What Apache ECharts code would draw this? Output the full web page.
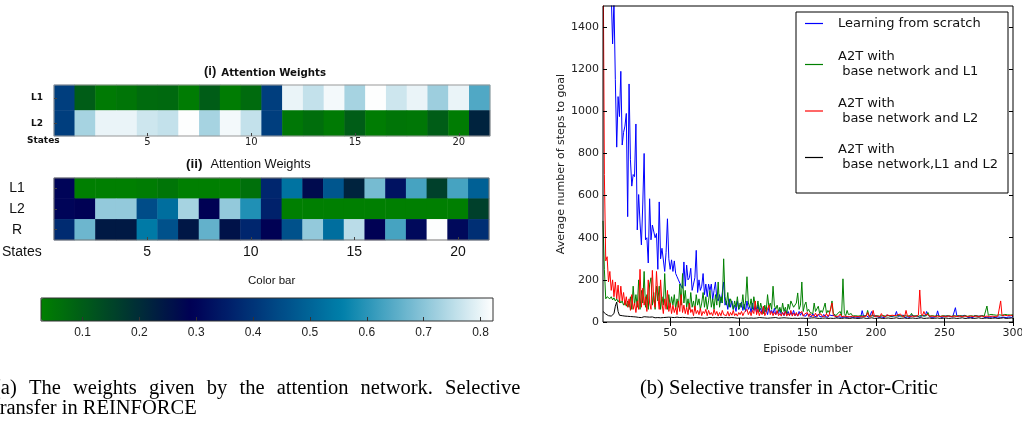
<!DOCTYPE html>
<html><head><meta charset="utf-8">
<script src="https://cdn.jsdelivr.net/npm/echarts@6/dist/echarts.min.js"></script>
<style>html,body{margin:0;padding:0;background:#fff}#c{width:1022px;height:421px}</style>
</head><body><div id="c"></div>
<script>
// ---------- data ----------
const states = ['1','2','3','4','5','6','7','8','9','10','11','12','13','14','15','16','17','18','19','20','21'];
const rowsI = ['L1','L2'];
const rowsII = ['L1','L2','R'];
const heatI_L1 = [0.42,0.10,0.04,0.05,0.07,0.075,0.035,0.10,0.035,0.07,0.42,0.80,0.76,0.81,0.73,0.82,0.77,0.80,0.72,0.80,0.64];
const heatI_L2 = [0.42,0.73,0.80,0.80,0.77,0.76,0.82,0.73,0.81,0.76,0.42,0.045,0.065,0.04,0.10,0.035,0.05,0.045,0.10,0.035,0.22];
const heatII_L1 = [0.30,0.03,0.03,0.03,0.035,0.05,0.03,0.03,0.03,0.06,0.37,0.53,0.27,0.47,0.22,0.68,0.33,0.63,0.16,0.63,0.49];
const heatII_L2 = [0.30,0.29,0.71,0.71,0.45,0.52,0.73,0.29,0.71,0.59,0.36,0.03,0.03,0.03,0.03,0.03,0.03,0.03,0.03,0.03,0.16];
const heatII_R  = [0.38,0.67,0.24,0.24,0.545,0.46,0.245,0.66,0.255,0.37,0.29,0.46,0.71,0.52,0.75,0.29,0.63,0.31,0.82,0.31,0.39];
const colorbarMin = 0.027, colorbarMax = 0.822;
const colorbarTicks = [0.1,0.2,0.3,0.4,0.5,0.6,0.7,0.8];
const episodeTicks = [50,100,150,200,250,300];
const stepTicks = [0,200,400,600,800,1000,1200,1400];
const seriesNames = ['Learning from scratch','A2T with\n base network and L1','A2T with\n base network and L2','A2T with\n base network,L1 and L2'];

const scratch = [
3200,2900,2600,2300,2000,1750,1560,1320,1520,1150,
830,1070,975,1190,840,900,930,990,500,1130,
770,645,700,690,940,437,605,470,366,560,
800,390,400,280,585,390,460,455,400,420,
250,570,300,350,355,240,330,490,300,250,
295,240,290,230,215,200,185,170,160,285,
170,270,200,210,255,150,180,210,340,140,
200,150,170,230,130,180,120,180,150,180,
105,150,190,110,100,130,90,140,190,80,
100,60,110,70,100,60,80,50,100,60,
70,95,55,85,50,100,60,75,45,90,
55,70,45,80,50,65,40,75,45,60,
35,70,45,55,40,65,35,50,40,60,
35,45,30,55,35,50,30,45,35,55,
30,40,28,50,32,45,30,38,28,42,
30,35,25,40,28,35,24,38,26,32,
24,36,26,30,22,34,25,30,24,32,
22,30,25,28,22,30,24,27,22,26,
25,28,22,26,24,28,22,30,24,54,
28,24,30,26,22,30,50,28,24,30,
26,22,31,24,28,21,27,33,24,29,
22,26,25,31,50,27,22,29,24,33,
21,27,24,30,22,34,25,27,21,29,
24,22,27,31,25,29,50,32,26,23,
29,22,31,26,53,28,24,21,30,27,
23,29,22,27,31,24,28,68,30,23,
27,21,29,24,32,26,22,29,23,27,
21,31,24,28,22,27,24,31,21,29,
23,27,22,31,24,29,21,26,24,31,
22,28,23,27,21,30,24,26,22,28];

const withL1 = [
480,250,110,120,115,110,120,105,115,100,
110,95,105,90,100,80,95,75,100,70,
120,60,170,80,130,70,200,60,150,90,
240,70,130,60,180,210,80,140,60,170,
100,170,60,120,80,230,90,60,130,70,
120,80,130,60,110,70,180,80,230,90,
150,70,110,60,140,70,100,55,130,80,
110,60,90,140,70,120,60,100,150,70,
110,60,130,80,190,70,120,90,300,120,
80,140,70,110,90,60,100,70,120,60,
90,70,130,60,100,215,90,70,110,60,
120,80,60,100,50,90,60,40,80,50,
130,70,90,60,170,80,60,80,50,70,
45,90,50,70,40,85,60,100,85,70,
70,90,138,60,80,190,50,80,95,50,
60,45,50,40,90,50,45,75,40,55,
45,50,90,40,55,45,60,100,40,45,
30,40,35,50,30,205,40,30,55,35,
30,40,28,35,30,38,28,34,30,36,
28,32,30,55,28,34,30,32,28,34,
30,33,27,36,31,34,28,32,30,38,
27,33,30,36,28,34,31,32,27,35,
30,33,28,36,30,41,28,32,30,34,
27,32,31,36,28,34,30,45,28,34,
30,33,28,36,31,34,27,32,30,35,
28,32,30,37,27,34,30,33,28,34,
31,32,28,36,30,34,27,32,30,35,
28,33,30,36,27,34,30,32,28,35,
76,32,28,36,30,34,28,32,30,34,
27,32,30,36,28,34,30,33,28,34];

const withL2 = [
1900,700,290,310,190,240,150,200,120,190,
110,175,90,170,100,140,80,120,70,110,
55,130,60,90,45,100,60,250,70,160,
80,120,50,200,90,60,245,100,70,240,
120,60,200,90,40,110,60,150,50,90,
40,80,45,70,35,100,50,130,45,80,
40,70,35,90,45,60,30,75,40,55,
35,65,30,50,40,60,30,55,35,45,
30,60,35,50,28,45,30,55,35,40,
30,50,28,45,32,55,30,40,28,45,
35,50,30,45,40,60,35,50,30,55,
40,100,35,60,30,50,35,75,30,45,
40,80,35,50,30,45,35,55,30,40,
28,45,32,50,28,40,30,55,28,42,
30,45,28,40,32,50,28,38,30,45,
26,40,30,35,28,42,26,36,30,38,
26,34,28,40,26,36,28,90,30,35,
26,32,28,38,25,34,28,30,26,35,
24,32,28,30,25,34,26,30,24,32,
26,30,28,45,26,32,28,55,26,30,
28,32,26,40,28,30,24,34,26,30,
28,32,26,30,28,34,26,38,28,30,
26,55,28,32,26,30,28,34,26,30,
32,152,40,30,50,34,28,36,26,30,
28,32,26,34,28,30,26,32,28,30,
26,34,28,30,26,32,28,30,26,34,
28,30,26,32,28,30,26,34,28,30,
26,32,28,30,26,34,28,30,26,32,
28,30,26,34,28,30,26,32,28,30,
100,30,26,32,28,30,26,32,28,30];

const withBoth = [
50,42,38,34,30,33,28,30,40,75,95,50,32,28,30,26,28,25,27,24,
26,23,25,22,24,26,22,24,21,23,25,22,24,20,23,21,24,22,20,23,21,22,20,24,21,19,22,20,23,21,
22,20,21,19,23,20,21,19,22,20,21,19,20,22,19,21,20,18,21,19,20,22,19,20,18,21,19,20,22,19,
20,18,21,19,20,18,22,19,20,18,21,19,20,18,21,19,20,22,18,20,
19,21,18,20,19,22,18,20,19,21,18,20,19,18,21,19,20,18,19,21,18,20,19,17,20,18,21,19,18,20,
19,17,20,18,19,21,18,19,17,20,18,19,17,20,18,21,18,19,17,20,
18,17,19,18,20,17,18,19,17,20,18,17,19,18,17,20,18,19,17,18,19,17,18,20,17,18,19,17,18,20,
17,18,19,17,18,20,17,19,18,17,20,18,17,19,18,17,20,18,17,19,
18,17,19,18,17,20,18,17,19,18,17,19,18,17,20,18,17,19,18,17,19,18,17,20,18,17,19,18,17,19,
18,17,20,18,17,19,18,17,19,18,17,20,18,17,19,18,17,19,18,17,
19,18,17,20,18,17,19,18,17,19,18,17,20,18,17,19,18,17,19,18,17,19,18,17,20,18,17,19,18,17,
19,18,17,20,18,17,19,18,17,19,18,17,20,18,17,19,18,17,19,18];

// ---------- build ----------
const episodes = scratch.map((_, i) => i + 1);
const ocean = ['#008000', '#000055', '#0080aa', '#ffffff'];
function cells(rows) { const out = []; rows.forEach((r, yi) => r.forEach((v, xi) => out.push([xi, yi, v]))); return out; }
function pts(arr) { return arr.map((v, i) => [episodes[i], v]); }
const every5 = (i) => (i + 1) % 5 === 0;
const lineColors = ['#0000ff', '#008000', '#ff0000', '#000000'];
const lineData = [scratch, withL1, withL2, withBoth];
const legendTops = [16, 49.5, 96, 142.5];

const chart = echarts.init(document.getElementById('c'));
const sansL = 'Liberation Sans';
const sansD = 'DejaVu Sans';
const serif = 'Liberation Serif';

const option = {
  animation: false,
  title: [
    { left: 204, top: 65, padding: 0, text: '{a|(i)}{b|Attention Weights}',
      textStyle: { rich: {
        a: { fontFamily: sansL, fontWeight: 'bold', fontSize: 13, color: '#111', verticalAlign: 'bottom' },
        b: { fontFamily: sansD, fontWeight: 'bold', fontSize: 10.2, color: '#111', verticalAlign: 'bottom', padding: [0, 0, 0, 5] } } } },
    { left: 186, top: 157, padding: 0, text: '{a|(ii)}{b|Attention Weights}',
      textStyle: { fontWeight: 'normal', rich: {
        a: { fontFamily: sansL, fontWeight: 'bold', fontSize: 13.5, color: '#111' },
        b: { fontFamily: sansL, fontWeight: 'normal', fontSize: 12.8, color: '#111', padding: [0, 0, 0, 8] } } } },
    { left: 27, top: 136, padding: 0, text: 'States', textStyle: { fontFamily: sansD, fontWeight: 'bold', fontSize: 9, color: '#111' } },
    { left: 2, top: 245, padding: 0, text: 'States', textStyle: { fontFamily: sansL, fontWeight: 'normal', fontSize: 14, color: '#111' } },
    { left: 248, top: 275, padding: 0, text: 'Color bar', textStyle: { fontFamily: sansL, fontWeight: 'normal', fontSize: 11.5, color: '#111' } },
    { left: -6, top: 378, padding: 0,
      text: '(a){s| }The{s| }weights{s| }given{s| }by{s| }the{s| }attention{s| }network.{s| }Selective',
      textStyle: { fontFamily: serif, fontWeight: 'normal', fontSize: 20.5, color: '#000', rich: { s: { width: 12.2, fontFamily: serif, fontSize: 20.5 } } } },
    { left: -6, top: 398, padding: 0, text: 'transfer in REINFORCE', textStyle: { fontFamily: serif, fontWeight: 'normal', fontSize: 20.5, color: '#000' } },
    { left: 640, top: 378, padding: 0, text: '(b) Selective transfer in Actor-Critic', textStyle: { fontFamily: serif, fontWeight: 'normal', fontSize: 20.5, color: '#000' } }
  ],
  grid: [
    { left: 54, top: 85, width: 436, height: 51, show: true, borderColor: '#999', borderWidth: 1, backgroundColor: 'transparent', z: 5, outerBoundsMode: 'none' },
    { left: 54, top: 178, width: 435, height: 62, show: true, borderColor: '#777', borderWidth: 1, backgroundColor: 'transparent', z: 5, outerBoundsMode: 'none' },
    { left: 41, top: 298, width: 452, height: 23, show: true, borderColor: '#333', borderWidth: 1, backgroundColor: 'transparent', z: 10, outerBoundsMode: 'none' },
    { left: 603, top: 6, width: 410, height: 316, show: true, borderColor: '#000', borderWidth: 1, backgroundColor: 'transparent', z: 5, outerBoundsMode: 'none' }
  ],
  xAxis: [
    { type: 'category', gridIndex: 0, data: states, z: 6, axisLine: { show: false },
      axisTick: { show: true, inside: true, length: 3, alignWithLabel: true, interval: every5, lineStyle: { color: '#444' } },
      axisLabel: { interval: every5, margin: 1, fontFamily: sansD, fontSize: 10, color: '#222' }, splitLine: { show: false } },
    { type: 'category', gridIndex: 1, data: states, z: 6, axisLine: { show: false },
      axisTick: { show: true, inside: true, length: 3, alignWithLabel: true, interval: every5, lineStyle: { color: '#444' } },
      axisLabel: { interval: every5, margin: 5, fontFamily: sansL, fontSize: 14, color: '#111' }, splitLine: { show: false } },
    { type: 'value', gridIndex: 2, min: colorbarMin, max: colorbarMax, z: 11, axisLine: { show: false },
      axisTick: { show: true, inside: true, length: 4, customValues: colorbarTicks, lineStyle: { color: '#333' } },
      axisLabel: { customValues: colorbarTicks, margin: 6, fontFamily: sansL, fontSize: 12, color: '#222', formatter: (v) => v.toFixed(1) },
      splitLine: { show: false } },
    { type: 'value', gridIndex: 3, min: 1, max: 300, z: 6, axisLine: { show: false },
      axisTick: { show: true, inside: true, length: 4, customValues: episodeTicks, lineStyle: { color: '#000' } },
      axisLabel: { customValues: episodeTicks, margin: 6, fontFamily: sansD, fontSize: 11, color: '#222', formatter: (v) => String(v) },
      splitLine: { show: false },
      name: 'Episode number', nameLocation: 'middle', nameGap: 21, nameTextStyle: { fontFamily: sansD, fontSize: 11, color: '#222' } },
    { type: 'value', gridIndex: 3, position: 'top', min: 1, max: 300, z: 6, axisLine: { show: false },
      axisTick: { show: true, inside: true, length: 4, customValues: episodeTicks, lineStyle: { color: '#000' } },
      axisLabel: { show: false }, splitLine: { show: false } }
  ],
  yAxis: [
    { type: 'category', gridIndex: 0, data: rowsI, inverse: true, z: 6, axisLine: { show: false },
      axisTick: { show: true, inside: true, length: 3, alignWithLabel: true, lineStyle: { color: '#444' } },
      axisLabel: { align: 'center', margin: 17, fontFamily: sansD, fontWeight: 'bold', fontSize: 9, color: '#111' } },
    { type: 'category', gridIndex: 1, data: rowsII, inverse: true, z: 6, axisLine: { show: false },
      axisTick: { show: true, inside: true, length: 3, alignWithLabel: true, lineStyle: { color: '#444' } },
      axisLabel: { align: 'center', margin: 37, fontFamily: sansL, fontSize: 14, color: '#111' } },
    { type: 'value', gridIndex: 2, min: 0, max: 1, show: false },
    { type: 'value', gridIndex: 3, min: 0, max: 1500, z: 6, axisLine: { show: false },
      axisTick: { show: true, inside: true, length: 4, customValues: stepTicks, lineStyle: { color: '#000' } },
      axisLabel: { customValues: stepTicks, margin: 4, fontFamily: sansD, fontSize: 11, color: '#222', formatter: (v) => String(v) },
      splitLine: { show: false },
      name: 'Average number of steps to goal', nameLocation: 'middle', nameGap: 35, nameTextStyle: { fontFamily: sansD, fontSize: 11, color: '#222' } },
    { type: 'value', gridIndex: 3, position: 'right', min: 0, max: 1500, z: 6, axisLine: { show: false },
      axisTick: { show: true, inside: true, length: 4, customValues: stepTicks, lineStyle: { color: '#000' } },
      axisLabel: { show: false }, splitLine: { show: false } }
  ],
  visualMap: {
    type: 'continuous', min: colorbarMin, max: colorbarMax, seriesIndex: [0, 1], dimension: 2,
    orient: 'horizontal', left: 41, top: 298, itemWidth: 23, itemHeight: 452, padding: 0,
    calculable: false, realtime: false, hoverLink: false, text: null, showLabel: false,
    inRange: { color: ocean }
  },
  legend: seriesNames.map((n, i) => ({
    data: [n], left: 805, top: legendTops[i], orient: 'vertical', padding: 0, itemWidth: 18, itemHeight: 1.2,
    icon: 'rect', itemGap: 0, z: 10, selectedMode: false,
    textStyle: { fontFamily: sansD, fontSize: 13, lineHeight: 15, color: '#111', padding: [0, 0, 0, 10] }
  })),
  graphic: [
    { type: 'rect', z: 8, shape: { x: 796, y: 12, width: 212, height: 181 }, style: { fill: '#fff', stroke: '#000', lineWidth: 1 }, silent: true }
  ],
  series: [
    { type: 'heatmap', xAxisIndex: 0, yAxisIndex: 0, data: cells([heatI_L1, heatI_L2]), itemStyle: { borderWidth: 0 }, emphasis: { disabled: true }, silent: true },
    { type: 'heatmap', xAxisIndex: 1, yAxisIndex: 1, data: cells([heatII_L1, heatII_L2, heatII_R]), itemStyle: { borderWidth: 0 }, emphasis: { disabled: true }, silent: true }
  ].concat(seriesNames.map((n, i) => ({
    type: 'line', name: n, xAxisIndex: 3, yAxisIndex: 3, data: pts(lineData[i]), symbol: 'none', showSymbol: false,
    clip: true, silent: true, lineStyle: { width: 1, color: lineColors[i] }, itemStyle: { color: lineColors[i] }
  })))
};
chart.setOption(option);
</script></body></html>
